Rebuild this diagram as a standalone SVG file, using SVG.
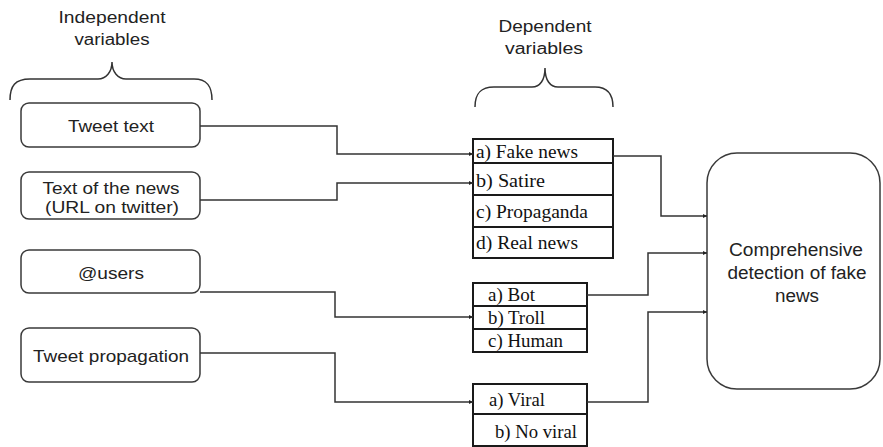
<svg xmlns="http://www.w3.org/2000/svg" width="883" height="447" viewBox="0 0 883 447">
<defs>
<style>
.rb{fill:#fff;stroke:#3a3a3a;stroke-width:1.5}
.tb{fill:#fff;stroke:#1a1a1a;stroke-width:2}
.dv{stroke:#1a1a1a;stroke-width:2}
.sans{font-family:"Liberation Sans",Arial,sans-serif;fill:#222}
.ser{font-family:"Liberation Serif","Times New Roman",serif;fill:#111;font-size:18px}
.c{text-anchor:middle}
.ln{fill:none;stroke:#333;stroke-width:1.5}
.br{fill:none;stroke:#333;stroke-width:1.5}
</style>
<marker id="ar" viewBox="0 0 6 6" refX="6" refY="3" markerWidth="4" markerHeight="4" orient="auto" markerUnits="userSpaceOnUse">
<path d="M0,0 L6,3 L0,6 z" fill="#222"/>
</marker>
</defs>
<rect width="883" height="447" fill="#fff"/>

<g id="label-independent">
<text class="sans c" x="112" y="23" font-size="16" textLength="107" lengthAdjust="spacingAndGlyphs">Independent</text>
<text class="sans c" x="112" y="45" font-size="16" textLength="75" lengthAdjust="spacingAndGlyphs">variables</text>
<path class="br" d="M10,100 C10,86 15,79 30,79 L98,79 C106,79 112,72 112,62 C112,72 118,79 126,79 L194,79 C207,79 212,86 212,100"/>
</g>

<g id="label-dependent">
<text class="sans c" x="545" y="32" font-size="16" textLength="93" lengthAdjust="spacingAndGlyphs">Dependent</text>
<text class="sans c" x="544" y="54" font-size="16" textLength="78" lengthAdjust="spacingAndGlyphs">variables</text>
<path class="br" d="M475,107 C475,94 480,87 494,87 L532,87 C540,87 545,80 545,68 C545,80 550,87 558,87 L595,87 C608,87 613,94 613,107"/>
</g>

<g id="n-tweet-text">
<rect class="rb" x="21" y="103" width="179" height="44" rx="8"/>
<text class="sans c" x="111" y="132" font-size="17" textLength="86" lengthAdjust="spacingAndGlyphs">Tweet text</text>
</g>
<g id="n-news-text">
<rect class="rb" x="21" y="172" width="179" height="47" rx="8"/>
<text class="sans c" x="111" y="194" font-size="17" textLength="137" lengthAdjust="spacingAndGlyphs">Text of the news</text>
<text class="sans c" x="112" y="213" font-size="17" textLength="134" lengthAdjust="spacingAndGlyphs">(URL on twitter)</text>
</g>
<g id="n-users">
<rect class="rb" x="21" y="250" width="179" height="43" rx="8"/>
<text class="sans c" x="111" y="279" font-size="17" textLength="66" lengthAdjust="spacingAndGlyphs">@users</text>
</g>
<g id="n-propagation">
<rect class="rb" x="21" y="328" width="179" height="54" rx="8"/>
<text class="sans c" x="111" y="362" font-size="17" textLength="156" lengthAdjust="spacingAndGlyphs">Tweet propagation</text>
</g>

<g id="n-news-type">
<rect class="tb" x="473" y="139" width="140" height="119"/>
<line class="dv" x1="473" y1="163" x2="613" y2="163"/>
<line class="dv" x1="473" y1="195" x2="613" y2="195"/>
<line class="dv" x1="473" y1="227" x2="613" y2="227"/>
<text class="ser" x="476" y="158" textLength="102" lengthAdjust="spacingAndGlyphs">a) Fake news</text>
<text class="ser" x="476" y="187" textLength="69" lengthAdjust="spacingAndGlyphs">b) Satire</text>
<text class="ser" x="476" y="218" textLength="112" lengthAdjust="spacingAndGlyphs">c) Propaganda</text>
<text class="ser" x="476" y="249" textLength="102" lengthAdjust="spacingAndGlyphs">d) Real news</text>
</g>

<g id="n-user-type">
<rect class="tb" x="473" y="283" width="114" height="69"/>
<line class="dv" x1="473" y1="306" x2="587" y2="306"/>
<line class="dv" x1="473" y1="329" x2="587" y2="329"/>
<text class="ser" x="488" y="301" textLength="47" lengthAdjust="spacingAndGlyphs">a) Bot</text>
<text class="ser" x="488" y="324" textLength="57" lengthAdjust="spacingAndGlyphs">b) Troll</text>
<text class="ser" x="488" y="347" textLength="75" lengthAdjust="spacingAndGlyphs">c) Human</text>
</g>

<g id="n-virality">
<rect class="tb" x="473" y="384" width="114" height="62"/>
<line class="dv" x1="473" y1="414" x2="587" y2="414"/>
<text class="ser" x="489" y="406" textLength="56" lengthAdjust="spacingAndGlyphs">a) Viral</text>
<text class="ser" x="495" y="438" textLength="82" lengthAdjust="spacingAndGlyphs">b) No viral</text>
</g>

<g id="n-detection">
<rect class="rb" x="707" y="153" width="173" height="236" rx="30"/>
<text class="sans c" x="796" y="256" font-size="18" textLength="134" lengthAdjust="spacingAndGlyphs">Comprehensive</text>
<text class="sans c" x="797" y="279" font-size="18" textLength="139" lengthAdjust="spacingAndGlyphs">detection of fake</text>
<text class="sans c" x="797" y="302" font-size="18" textLength="44" lengthAdjust="spacingAndGlyphs">news</text>
</g>

<g id="connectors">
<path class="ln" d="M200,126 H337 V154 H473" marker-end="url(#ar)"/>
<path class="ln" d="M200,200 H337 V183 H473" marker-end="url(#ar)"/>
<path class="ln" d="M200,292 H335 V317 H473" marker-end="url(#ar)"/>
<path class="ln" d="M200,353 H335 V402 H473" marker-end="url(#ar)"/>
<path class="ln" d="M613,156 H661 V216 H707" marker-end="url(#ar)"/>
<path class="ln" d="M587,295 H648 V253 H707" marker-end="url(#ar)"/>
<path class="ln" d="M587,402 H648 V312 H707" marker-end="url(#ar)"/>
</g>
</svg>
